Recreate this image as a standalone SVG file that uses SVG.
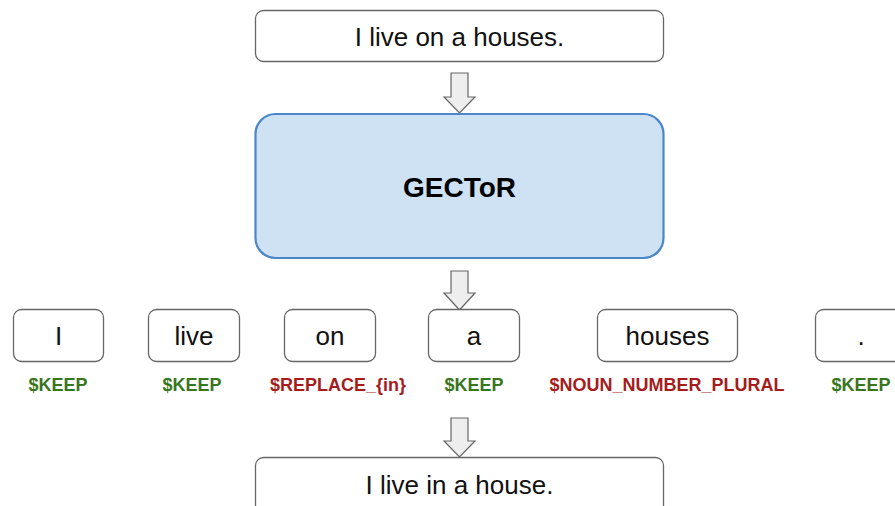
<svg xmlns="http://www.w3.org/2000/svg" width="895" height="506" viewBox="0 0 895 506">
  <style>
    .box { fill: #ffffff; stroke: #666666; stroke-width: 1.3; }
    .model { fill: #cfe2f3; stroke: #4a86c8; stroke-width: 2.2; }
    .txt { font-family: "Liberation Sans", Arial, sans-serif; font-size: 26px; fill: #111111; text-anchor: middle; }
    .title { font-family: "Liberation Sans", Arial, sans-serif; font-size: 28px; font-weight: bold; fill: #000000; text-anchor: middle; }
    .tag { font-family: "Liberation Sans", Arial, sans-serif; font-size: 18px; font-weight: bold; text-anchor: middle; }
    .keep { fill: #38761d; }
    .edit { fill: #a61c1c; }
    .flow { fill: #eeeeee; stroke: #666666; stroke-width: 1.2; stroke-linejoin: miter; }
  </style>
  <rect width="895" height="506" fill="#ffffff"/>

  <!-- flow arrows -->
  <g id="connectors">
    <path class="flow" d="M451,73 H468 V97 H475 L459.5,113 L444,97 H451 Z"/>
    <path class="flow" d="M451,271 H468 V293 H475 L459.5,310 L444,293 H451 Z"/>
    <path class="flow" d="M451,418 H468 V441 H475 L459.5,457 L444,441 H451 Z"/>
  </g>

  <g id="input">
    <rect class="box" x="255.5" y="10.5" width="408" height="51" rx="8"/>
    <text class="txt" x="459.5" y="46">I live on a houses.</text>
  </g>

  <g id="gector">
    <rect class="model" x="255.5" y="114" width="408" height="144" rx="20"/>
    <text class="title" x="459.5" y="197">GECToR</text>
  </g>

  <g id="tok-I">
    <rect class="box" x="13.5" y="309.5" width="90" height="52" rx="8"/>
    <text class="txt" x="58.5" y="345">I</text>
    <text class="tag keep" x="58" y="391">$KEEP</text>
  </g>
  <g id="tok-live">
    <rect class="box" x="148.5" y="309.5" width="91" height="52" rx="8"/>
    <text class="txt" x="194" y="345">live</text>
    <text class="tag keep" x="192" y="391">$KEEP</text>
  </g>
  <g id="tok-on">
    <rect class="box" x="284.5" y="309.5" width="91" height="52" rx="8"/>
    <text class="txt" x="330" y="345">on</text>
    <text class="tag edit" x="338" y="391">$REPLACE_{in}</text>
  </g>
  <g id="tok-a">
    <rect class="box" x="428.5" y="309.5" width="91" height="52" rx="8"/>
    <text class="txt" x="474" y="345">a</text>
    <text class="tag keep" x="474" y="391">$KEEP</text>
  </g>
  <g id="tok-houses">
    <rect class="box" x="597.5" y="309.5" width="140" height="52" rx="8"/>
    <text class="txt" x="667.5" y="345">houses</text>
    <text class="tag edit" x="667" y="391">$NOUN_NUMBER_PLURAL</text>
  </g>
  <g id="tok-dot">
    <rect class="box" x="815.5" y="309.5" width="91" height="52" rx="8"/>
    <text class="txt" x="861" y="345">.</text>
    <text class="tag keep" x="861" y="391">$KEEP</text>
  </g>

  <g id="output">
    <rect class="box" x="255.5" y="457.5" width="408" height="60" rx="8"/>
    <text class="txt" x="459.5" y="494">I live in a house.</text>
  </g>
</svg>
